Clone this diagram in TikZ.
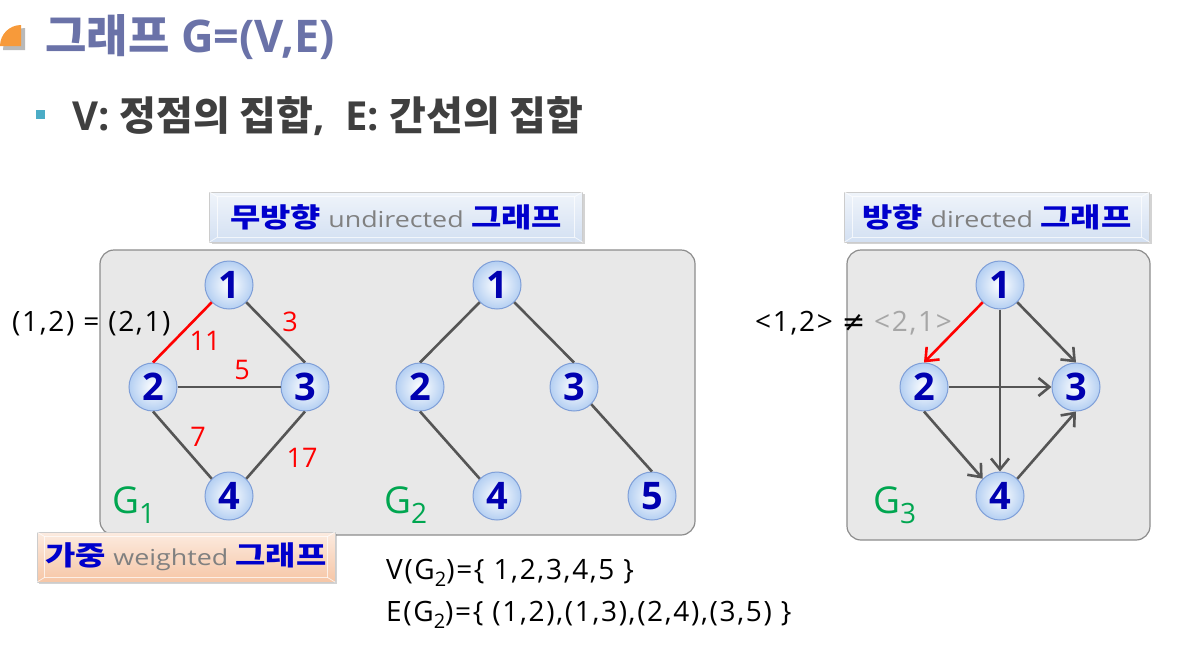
\documentclass[tikz,border=0pt]{standalone}
\usepackage{fontspec}
\setmainfont{Open Sans}
\newfontfamily\kr{Noto Sans CJK KR}
\newfontfamily\symf{DejaVu Sans}
\usetikzlibrary{arrows.meta,shadows,calc}
\definecolor{titleblue}{HTML}{6A72A8}
\definecolor{subgray}{HTML}{3F3F3F}
\definecolor{bullet}{HTML}{4BACC6}
\definecolor{iconorange}{HTML}{F79A3A}
\definecolor{panelfill}{HTML}{E8E8E8}
\definecolor{panelline}{HTML}{8C8C8C}
\definecolor{numblue}{HTML}{0000B0}
\definecolor{vborder}{HTML}{7F9FD8}
\definecolor{vfill}{HTML}{B4CFF2}
\definecolor{edgegray}{HTML}{555555}
\definecolor{wred}{HTML}{FF0000}
\definecolor{ggreen}{HTML}{00A650}
\definecolor{lblblue}{HTML}{0000CC}
\definecolor{lblgray}{HTML}{808080}
\definecolor{boxblue}{HTML}{D3E0F2}
\definecolor{boxpeach}{HTML}{F6C6A6}
\newcommand{\fs}[1]{\fontsize{#1}{#1}\selectfont}
\newcommand{\gname}[1]{G\raisebox{-10pt}{\fs{28}#1}}
\newcommand{\lbltxtfont}{\fs{27}\kr\bfseries}
% box caption: korean, grey english, korean
\newcommand{\boxcap}[3]{\scalebox{1.22}[1]{\textcolor{lblblue}{\lbltxtfont #1}\hspace{6pt}\textcolor{lblgray}{\fs{22}#2}\hspace{6pt}\textcolor{lblblue}{\lbltxtfont #3}}}
\begin{document}
\begin{tikzpicture}[x=1pt,y=-1pt,
    vert/.style={circle,draw=vborder,line width=1pt,inner sep=0pt,minimum size=48pt,
      shading=radial,inner color=white,outer color=vfill,
      font=\fs{38}\bfseries,text=numblue},
    edge/.style={draw=edgegray,line width=2.6pt},
    redge/.style={draw=wred,line width=2.6pt},
    arc/.style={edge,-{Straight Barb[length=11pt,width=18pt]}},
    rarc/.style={redge,-{Straight Barb[length=11pt,width=18pt]}},
    panel/.style={draw=panelline,line width=1.2pt,fill=panelfill,rounded corners=14pt},
    lblbox/.style={draw=white!80!black,line width=0.6pt,minimum height=50pt,
      top color=#1!35!white,bottom color=#1,
      drop shadow={opacity=0.35,shadow xshift=2pt,shadow yshift=-2pt},
      inner sep=0pt},
    bevel/.style={draw=white,line width=0.8pt,opacity=0.7},
    weight/.style={font=\fs{27},text=wred},
    gtag/.style={font=\fs{37},text=ggreen,anchor=base west,inner sep=0pt},
    plain/.style={font=\fs{28}\addfontfeature{LetterSpace=6},anchor=base west,inner sep=0pt}]
\useasboundingbox (0,0) rectangle (1184,648);
% title
\fill[gray!55] (25,50) -- (3,50) arc (180:270:22) -- cycle;
\fill[iconorange] (21,46) -- (0,46) arc (180:270:21) -- cycle;
\node[anchor=base west,inner sep=0pt,font=\fs{45}\bfseries,text=titleblue] (title) at (45,52)
  {{\kr 그래프} G=(V,E)};
\fill[bullet] (36,110) rectangle (45,119);
\node[anchor=base west,inner sep=0pt,font=\fs{40}\bfseries,text=subgray] (sub) at (72,130)
  {V: {\kr 정점의 집합},~~E: {\kr 간선의 집합}};
% panels
\draw[panel] (100,250) rectangle (695,535);
\draw[panel] (847,250) rectangle (1150,540);
% label boxes
\node[lblbox=boxblue,minimum width=373pt] (undir) at (396,217) {\boxcap{무방향}{undirected}{그래프}};
\node[lblbox=boxblue,minimum width=305pt] (dir) at (997,217) {\boxcap{방향}{directed}{그래프}};
\node[lblbox=boxpeach,minimum width=298pt] (wgt) at (186,557) {\boxcap{가중}{weighted}{그래프}};
\foreach \b in {undir,dir,wgt} {
  \draw[bevel] ($(\b.north west)+(8,5)$) rectangle ($(\b.south east)+(-8,-5)$);
  \draw[bevel] (\b.north west) -- ++(8,5) (\b.north east) -- ++(-8,5)
               (\b.south west) -- ++(8,-5) (\b.south east) -- ++(-8,-5);
}
% G1
\node[vert] (a1) at (229,285) {1};
\node[vert] (a2) at (153,387) {2};
\node[vert] (a3) at (305,387) {3};
\node[vert] (a4) at (229,496) {4};
\draw[redge] (a1.south west) -- (a2.north);
\draw[edge] (a1.south east) -- (a3.north);
\draw[edge] (a2.east) -- (a3.west);
\draw[edge] (a2.south) -- (a4.north west);
\draw[edge] (a3.south) -- (a4.north east);
\node[weight] (w13) at (290,322) {3};
\node[weight] (w12) at (205,341) {11};
\node[weight] (w23) at (242,370) {5};
\node[weight] (w24) at (198,437) {7};
\node[weight] (w34) at (302,458) {17};
\node[gtag] (g1) at (112,513) {\gname{1}};
\node[plain] (eq1) at (12,331) {(1,2) = (2,1)};
% G2
\node[vert] (b1) at (497,285) {1};
\node[vert] (b2) at (420,387) {2};
\node[vert] (b3) at (574,387) {3};
\node[vert] (b4) at (497,496) {4};
\node[vert] (b5) at (652,496) {5};
\draw[edge] (b1.south west) -- (b2.north);
\draw[edge] (b1.south east) -- (b3.north);
\draw[edge] (b2.south) -- (b4.north west);
\draw[edge] (b3.south east) -- (b5.north);
\node[gtag] (g2) at (384,513) {\gname{2}};
\node[plain] (vset) at (386,579) {V(G\raisebox{-7pt}{\fs{20}2})=\{ 1,2,3,4,5 \}};
\node[plain] (eset) at (386,621) {E(G\raisebox{-7pt}{\fs{20}2})=\{ (1,2),(1,3),(2,4),(3,5) \}};
% G3
\node[vert] (c1) at (1000,285) {1};
\node[vert] (c2) at (924,387) {2};
\node[vert] (c3) at (1076,387) {3};
\node[vert] (c4) at (1000,496) {4};
\draw[rarc] (c1.south west) -- (c2.north);
\draw[arc] (c1.south east) -- (c3.north);
\draw[arc] (c1.south) -- (c4.north);
\draw[arc] (c2.east) -- (c3.west);
\draw[arc] (c2.south) -- (c4.north west);
\draw[arc] (c4.north east) -- (c3.south);
\node[gtag] (g3) at (873,513) {\gname{3}};
\node[plain] (neq) at (755,331) {<1,2> {\symf ≠} \textcolor{lblgray!70}{<2,1>}};
\end{tikzpicture}
\end{document}
